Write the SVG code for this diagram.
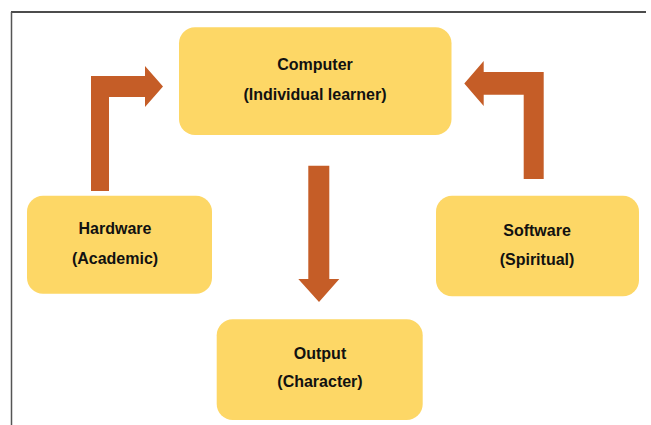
<svg xmlns="http://www.w3.org/2000/svg" width="651" height="425" viewBox="0 0 651 425">
<style>
.box{fill:#FDD766;}
.arrow{fill:#C55D27;}
.t{font-family:"Liberation Sans",Arial,sans-serif;font-weight:bold;font-size:16px;fill:#111;text-anchor:middle;}
</style>
<rect width="651" height="425" fill="#fff"/>
<line x1="11" y1="12" x2="646" y2="12" stroke="#111" stroke-width="1.3"/>
<line x1="11.5" y1="12" x2="11.5" y2="425" stroke="#555" stroke-width="1.5"/>
<g id="connectors">
<polygon class="arrow" points="91,191 91,76 145,76 145,66 163,86.5 145,107 145,97 109,97 109,191"/>
<polygon class="arrow" points="543.7,179 543.7,72 483.7,72 483.7,61 464.3,83.5 483.7,106 483.7,94.7 523.7,94.7 523.7,179"/>
<polygon class="arrow" points="308.3,165.7 329.3,165.7 329.3,279 339.3,279 319,302 298.3,279 308.3,279"/>
</g>
<g id="computer">
<rect class="box" x="179" y="27.3" width="272.5" height="107.7" rx="16"/>
<text class="t" x="315" y="69.5">Computer</text>
<text class="t" x="315" y="100">(Individual learner)</text>
</g>
<g id="hardware">
<rect class="box" x="27" y="195.7" width="185" height="98" rx="16"/>
<text class="t" x="115" y="234.3">Hardware</text>
<text class="t" x="115" y="264">(Academic)</text>
</g>
<g id="software">
<rect class="box" x="436" y="195.7" width="203" height="100.6" rx="16"/>
<text class="t" x="537" y="236">Software</text>
<text class="t" x="537" y="265">(Spiritual)</text>
</g>
<g id="output">
<rect class="box" x="216.7" y="319.3" width="206" height="100.7" rx="16"/>
<text class="t" x="320" y="358.7">Output</text>
<text class="t" x="320" y="387">(Character)</text>
</g>
</svg>
